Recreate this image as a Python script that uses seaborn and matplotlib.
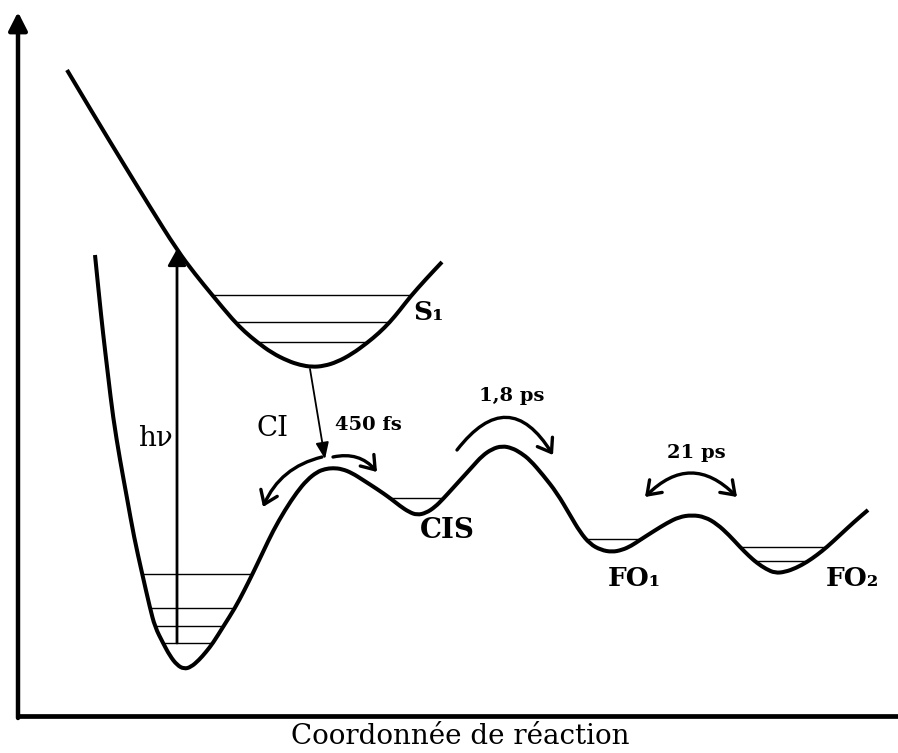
import matplotlib
matplotlib.use("Agg")
import matplotlib.pyplot as plt
import pandas as pd
import seaborn as sns
from matplotlib.path import Path
from matplotlib.patches import FancyArrowPatch, PathPatch

# Courbes (pixels, y vers le bas)
s1_x = [67, 95, 123, 150, 177, 195, 213, 233, 245, 257, 272, 288, 300, 312,
        324, 337, 352, 367, 379, 390, 400, 410, 426, 442]
s1_y = [70, 117, 163, 207, 250, 274, 296, 320, 332, 342, 353, 361, 365, 367,
        366, 362, 354, 343, 333, 322, 310, 297, 279, 262]

s0_x = [95, 99, 103, 108, 113, 120, 127, 134, 142, 150, 155, 163, 170, 177,
        184, 191, 199, 206, 213, 223, 235, 244, 253, 263, 273, 285, 297, 307,
        317, 325, 333, 342, 352, 363, 377, 390, 400, 409, 417, 426, 435, 443,
        453, 463, 473, 482, 492, 502, 512, 521, 530, 543, 557, 570, 580, 590,
        601, 612, 622, 631, 640, 654, 667, 679, 692, 705, 717, 729, 740, 749,
        757, 766, 775, 785, 796, 807, 817, 827, 840, 854, 868]
s0_y = [255, 295, 333, 375, 417, 460, 498, 537, 573, 608, 627, 643, 656, 665,
        669, 667, 660, 652, 643, 627, 608, 591, 573, 552, 531, 510, 492, 480,
        472, 469, 468, 469, 473, 480, 489, 498, 506, 512, 515, 513, 507, 499,
        488, 477, 466, 456, 449, 446, 448, 453, 460, 475, 493, 515, 532, 544,
        550, 552, 550, 546, 540, 531, 523, 517, 515, 517, 524, 535, 547, 556,
        563, 569, 573, 572, 568, 562, 555, 547, 535, 522, 510]

# Niveaux vibrationnels : y, x debut, x fin
lvl_y = [295, 322, 342, 574, 608, 626, 643, 498, 539, 547, 561]
lvl_x0 = [213, 237, 259, 142, 150, 155, 163, 388, 587, 740, 753]
lvl_x1 = [410, 390, 367, 252, 234, 223, 213, 442, 642, 827, 807]

# Etiquettes
lab_txt = ["S₁", "hν", "CI", "450 fs", "CIS", "1,8 ps", "21 ps", "FO₁", "FO₂"]
lab_x = [429, 155, 273, 368, 447, 512, 696, 634, 852]
lab_y = [312, 438, 428, 425, 530, 396, 453, 579, 579]
lab_size = [19, 20, 20, 14, 20, 14, 14, 19, 19]
lab_bold = [True, False, False, True, True, True, True, True, True]

# Fleches courbes : depart, arrivee, courbure, style
arr_x0 = [322, 333, 457, 645]
arr_y0 = [457, 457, 450, 497]
arr_x1 = [263, 377, 553, 737]
arr_y1 = [507, 472, 455, 497]
arr_rad = [0.25, -0.3, -0.72, -0.5]
arr_style = ["->", "->", "->", "<->"]


def courbe_lisse(xs, ys):
    # chemin de Bezier quadratique passant par les milieux des points lus
    pts = list(zip(xs, ys))
    verts = [pts[0]]
    codes = [Path.MOVETO]
    for i in range(1, len(pts) - 1):
        mx = (pts[i][0] + pts[i + 1][0]) / 2
        my = (pts[i][1] + pts[i + 1][1]) / 2
        verts += [pts[i], (mx, my)]
        codes += [Path.CURVE3, Path.CURVE3]
    verts.append(pts[-1])
    codes.append(Path.LINETO)
    return Path(verts, codes)


sns.set_theme(style="white")
plt.rcParams["font.family"] = ["DejaVu Serif", "DejaVu Sans"]

fig = plt.figure(figsize=(8.98, 7.53), dpi=100)
ax = fig.add_axes([0, 0, 1, 1])

niveaux = pd.DataFrame({
    "x": lvl_x0 + lvl_x1,
    "y": lvl_y + lvl_y,
    "niveau": list(range(len(lvl_y))) * 2,
})
sns.lineplot(data=niveaux, x="x", y="y", units="niveau", estimator=None,
             color="black", lw=1.0, ax=ax, legend=False)

for xs, ys in [(s1_x, s1_y), (s0_x, s0_y)]:
    ax.add_patch(PathPatch(courbe_lisse(xs, ys), facecolor="none",
                           edgecolor="black", lw=2.9, capstyle="butt"))

ax.set_xlim(0, 898)
ax.set_ylim(753, 0)
ax.axis("off")

# axes du diagramme
ax.plot([16, 898], [716, 716], color="black", lw=3.4, solid_capstyle="butt")
ax.add_patch(FancyArrowPatch((18, 718), (18, 12), arrowstyle="-|>,head_length=0.55,head_width=0.28",
                             mutation_scale=20, color="black", lw=3.2, shrinkA=0, shrinkB=0))

# excitation h nu
ax.add_patch(FancyArrowPatch((177, 643), (177, 249), arrowstyle="-|>,head_length=0.5,head_width=0.28",
                             mutation_scale=20, color="black", lw=2.0, shrinkA=0, shrinkB=0))
# S1 -> CI
ax.add_patch(FancyArrowPatch((310, 369), (325, 459), arrowstyle="-|>,head_length=0.5,head_width=0.2",
                             mutation_scale=20, color="black", lw=1.3, shrinkA=0, shrinkB=0))

for x0, y0, x1, y1, r, st in zip(arr_x0, arr_y0, arr_x1, arr_y1, arr_rad, arr_style):
    ax.add_patch(FancyArrowPatch((x0, y0), (x1, y1), arrowstyle=st + ",head_length=0.45,head_width=0.32",
                                 connectionstyle="arc3,rad=%s" % r, mutation_scale=20,
                                 color="black", lw=2.4, shrinkA=0, shrinkB=0))

for t, x, y, s, b in zip(lab_txt, lab_x, lab_y, lab_size, lab_bold):
    ax.text(x, y, t, fontsize=s, fontweight="bold" if b else "normal",
            ha="center", va="center", color="black")

ax.text(460, 744, "Coordonnée de réaction", fontsize=20, ha="center", va="baseline", color="black")

plt.savefig("out.png", dpi=100)
